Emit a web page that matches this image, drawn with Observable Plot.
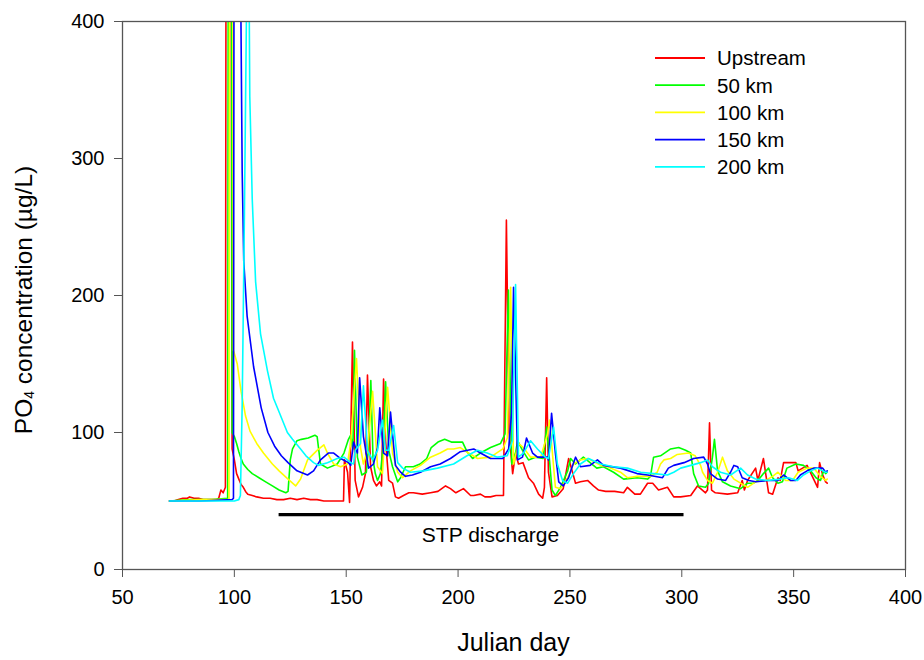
<!DOCTYPE html>
<html><head><meta charset="utf-8">
<script src="https://cdn.jsdelivr.net/npm/d3@7"></script>
<script src="https://cdn.jsdelivr.net/npm/@observablehq/plot@0.6"></script>
<style>body{margin:0;background:#fff} #chart svg{display:block}</style>
</head><body><div id="chart"></div>
<script>
const seriesNames = ["Upstream", "50 km", "100 km", "150 km", "200 km"];
const seriesColors = ["#ff0000", "#00ff00", "#ffff00", "#0000ff", "#00ffff"];

const upstream = [[71,50],[73,50],[75,51],[77,52],[79,52],[80,53],[82,52],[84,52],[86,51],[88,51],[90,51],[92,51],[93,52],[94,58],[95,56],[96,60],[97,1500],[98,900],[99,88],[100,80],[101,70],[102,66],[103,62],[104,60],[105,57],[106,55],[108,54],[110,53],[113,52],[116,52],[119,51],[122,51],[125,52],[128,51],[131,52],[134,51],[137,51],[140,50],[143,50],[146,50],[148.8,50],[149.2,80],[150.6,71],[151.5,49],[152.8,166],[154,65],[155.5,53],[157.3,60],[158.6,70],[159.5,142],[160.9,75],[162.2,65],[163.5,61],[165,64],[165.8,61],[166.7,139],[167.6,94],[169,65],[170.7,63],[172,53],[173.4,52],[175.6,54],[178,56],[180,56],[184,55],[187.7,56],[191,57],[194.4,61],[196.6,59],[199,56],[202.4,59],[205.6,54],[207,54],[210,55],[212,53],[214.5,53],[217,54],[220.3,54],[221.6,255],[222.8,100],[224.4,70],[225.7,85],[227,77],[229,78],[231.5,67],[233.7,63],[236,55],[237.8,52],[238.6,60],[239.6,140],[240.4,71],[242,53],[244.4,54],[247,59],[249.4,81],[251,72],[252.5,63],[254.7,64],[257.9,65],[260.5,61],[262.8,58],[266,57],[270,57],[274,56],[275.7,60],[279,55],[281.5,55],[284.7,63],[287,63],[289.6,58],[293.6,60],[296.4,53],[299.5,53],[304,54],[307,61],[310.6,56],[311.5,58],[312.4,107],[313.3,58],[315,56],[320.4,55],[325,56],[327,65],[328,58],[329.4,65],[333,74],[334,65],[336.5,81],[338.8,56],[340.6,55],[343,67],[344,65],[345.5,78],[351,78],[352,72],[356,76],[360.7,60],[361.6,78],[363,69],[364.3,64],[365,63]];

const km50 = [[71,50],[80,51],[90,51],[97,52],[98,1500],[99,100],[100,97],[101,92],[102,86],[103,81],[104,77],[106,73],[108,70],[111,67],[114,64],[117,61],[120,58],[123,56],[124,57],[125,80],[126,88],[128,94],[130,95],[133,96],[136,98],[137,97],[138.5,77],[141.6,74],[146,77],[149,85],[151,95],[152,98],[153,88],[153.7,160],[155,82],[157,69],[159,71],[160,90],[161,138],[162,80],[163,70],[164,65],[165.3,70],[166.5,90],[167.6,137],[169,87],[170.7,75],[173,64],[174.3,67],[176.5,75],[180,75],[183,77],[186,81],[188,89],[191,93],[194,95],[197,93],[200,93],[202,93],[204,86],[206.5,81],[210,85],[214.5,89],[219,92],[221,99],[222.5,204],[224,77],[225.7,85],[226.6,94],[228.8,87],[231.5,80],[234.6,82],[238,81],[239.6,104],[242,58],[243.5,54],[245.8,60],[249,72],[250.3,81],[252.5,77],[256,82],[259,78],[262,74],[265,75],[269.5,71],[274,66],[280,67],[284.7,66],[286,68],[287.4,82],[290.5,83],[295,88],[298.6,89],[301.7,87],[304,85],[305.3,70],[307.5,61],[310.6,60],[312,63],[313.7,82],[314.6,95],[316,72],[318.2,64],[321.8,61],[326.3,59],[329.4,63],[332,63],[334,65],[336.5,70],[338.8,74],[340.6,67],[343,63],[345,64],[347,74],[351,77],[354.4,76],[357.6,72],[360,67],[362,65],[363.4,72],[364.3,70],[365,71]];

const km100 = [[71,50],[85,51],[97.6,51],[98.4,1400],[99.6,160],[101.3,150],[103,130],[105,112],[107,101],[110,92],[113,85],[117,77],[120,72],[124,66],[127.4,61],[129.6,66],[132.7,80],[137,87],[140,91],[141.6,85],[144.4,77],[147.5,75],[150.5,77],[152,92],[154.6,154],[156.4,89],[157.7,77],[159.5,87],[161.8,130],[164,75],[166.2,70],[168.5,133],[170.7,85],[173,71],[175.2,67],[178.7,72],[183.2,76],[187.7,82],[192,85],[195.3,88],[198,88],[201,89],[204.7,85],[208.7,81],[214.5,82],[220,88],[222,96],[223.5,206],[224.8,77],[227,92],[229.2,89],[232.4,82],[236.9,82],[240,99],[240.9,109],[243.5,60],[245.8,59],[249,67],[251.6,77],[254.7,80],[257.9,81],[260.5,79],[263.7,76],[266.8,75],[272.6,71],[275.7,67],[280,68],[286,68],[289,71],[290.5,77],[292,80],[295,81],[298,84],[303,85],[306,83],[308.4,76],[309.3,71],[311.5,65],[313.7,63],[316,71],[318.2,82],[320.4,72],[323.3,66],[326.3,63],[329.4,60],[333,64],[337.4,65],[340.6,68],[343,71],[346.4,65],[349.5,65],[352,71],[356,74],[359,74],[362,68],[364.3,65],[365,66]];

const km150 = [[71,50],[85,50],[99,51],[99.6,52],[100.5,1500],[102.7,450],[103.5,290],[104.2,225],[105.7,185],[108.6,148],[112,118],[115,100],[118,90],[121,83],[124,78],[128,72],[132.7,69],[135.4,72],[138.5,80],[142,85],[144.4,85],[147.5,81],[151,78],[152,76],[153.3,93],[155,85],[156,140],[157.7,97],[160,74],[162.2,77],[164,89],[165,118],[166.7,85],[168.5,83],[169.8,115],[172,76],[174.3,71],[176.5,68],[179.6,69],[183.2,71],[187.7,75],[192,77],[196.6,81],[201,86],[207,88],[210,85],[214.5,81],[220,81],[222.6,88],[223.9,114],[224.8,206],[226.6,80],[228.8,82],[230.6,96],[233.3,85],[235.5,82],[240,82],[240.4,80],[241.8,114],[243.5,85],[245,64],[247,61],[249.4,67],[251,75],[252.5,82],[254.7,75],[259,76],[262.3,80],[265,76],[272.6,74],[280,70],[284.7,69],[291.4,67],[294,74],[296.4,76],[301,78],[305.3,81],[309.8,82],[311.5,77],[312.8,70],[316,66],[319.6,65],[321.8,71],[323.3,76],[325,75],[327,67],[330,65],[333,64],[338.3,65],[343,65],[345.5,69],[348.6,65],[351,65],[353,69],[356,72],[359,74],[363,74],[364.3,71],[365,72]];

const km200 = [[71,50],[90,50],[100,50],[102,51],[102.7,54],[103.5,120],[104.5,260],[105.5,420],[106.2,520],[106.9,345],[108,270],[109.5,210],[111.7,172],[114.8,145],[117.5,125],[120,115],[123.7,100],[126,95],[129.6,88],[132,83],[135.4,78],[137.6,76],[141.6,78],[146,81],[149,82],[152,78],[153.3,77],[154,87],[156.4,92],[157.7,134],[159.5,87],[161.8,80],[164,87],[166.2,109],[167.6,87],[169,87],[171.2,105],[173,78],[175.2,74],[178.7,71],[184.5,72],[190.8,74],[198,77],[204,83],[208.7,87],[213,85],[217.6,82],[222,83],[224.3,94],[225.7,208],[227,82],[229.2,85],[232.4,94],[235.5,88],[239,82],[240.4,81],[242.7,104],[244.4,77],[246.7,65],[249,63],[251.6,70],[254.7,77],[258.3,81],[263.7,77],[269.5,75],[275.7,74],[281.6,71],[287.4,70],[293.6,69],[296.4,71],[299.5,74],[304,76],[308.4,78],[311.5,80],[313.7,75],[317.3,71],[321.8,69],[326.3,74],[329.4,69],[333,66],[338.3,65],[344,66],[347.7,67],[351.7,65],[354.4,69],[357.6,72],[360.7,74],[364.3,71],[365,71]];

const xTicks = [50, 100, 150, 200, 250, 300, 350, 400];
const yTicks = [0, 100, 200, 300, 400];
const stp = [{start: 120, end: 301, level: 40, label: "STP discharge", labelDay: 214.5, labelLevel: 25}];

const allSeries = [upstream, km50, km100, km150, km200];
const rows = [];
allSeries.forEach((s, i) => s.forEach(([d, v]) => rows.push({day: d, value: v, series: seriesNames[i]})));

const font = "Liberation Sans, Arial, Helvetica, sans-serif";
const plot = Plot.plot({
  width: 924, height: 660,
  marginLeft: 122, marginRight: 19, marginTop: 21, marginBottom: 91,
  style: {fontFamily: font, background: "#fff", color: "#000"},
  x: {domain: [50, 400]},
  y: {domain: [0, 400]},
  color: {domain: seriesNames, range: seriesColors},
  marks: [
    Plot.line(rows, {x: "day", y: "value", z: "series", stroke: "series", strokeWidth: 1.6, clip: true}),
    Plot.ruleY(stp, {y: "level", x1: "start", x2: "end", stroke: "#000", strokeWidth: 3.2}),
    Plot.text(stp, {x: "labelDay", y: "labelLevel", text: "label", fontSize: 21, fill: "#000"}),
    Plot.frame({stroke: "#555", strokeWidth: 1.3}),
    Plot.axisX({ticks: xTicks, tickSize: 8, tickPadding: 12, fontSize: 20, label: null, stroke: "#555", fill: "#000"}),
    Plot.axisY({ticks: yTicks, tickSize: 8, tickPadding: 10, fontSize: 20, label: null, stroke: "#555", fill: "#000"})
  ]
});

const svg = d3.select(plot);
// axis titles
svg.append("text")
  .attr("x", 513.5).attr("y", 651)
  .attr("text-anchor", "middle")
  .attr("font-family", font).attr("font-size", 25)
  .text("Julian day");
const yl = svg.append("text")
  .attr("transform", "translate(32,300) rotate(-90)")
  .attr("text-anchor", "middle")
  .attr("font-family", font).attr("font-size", 24.5);
yl.append("tspan").text("PO");
yl.append("tspan").attr("font-size", 14).attr("dy", 2).text("4");
yl.append("tspan").attr("dy", -2).text(" concentration (µg/L)");

// legend
const lg = svg.append("g").attr("font-family", font).attr("font-size", 20.5).attr("text-anchor", "start");
seriesNames.forEach((name, i) => {
  const y = 58 + i * 27.2;
  lg.append("line").attr("x1", 655).attr("x2", 705).attr("y1", y).attr("y2", y)
    .attr("stroke", seriesColors[i]).attr("stroke-width", 1.8);
  lg.append("text").attr("x", 717).attr("y", y).attr("dy", "0.36em").attr("text-anchor", "start").text(name);
});

document.getElementById("chart").appendChild(plot);
</script>
</body></html>
